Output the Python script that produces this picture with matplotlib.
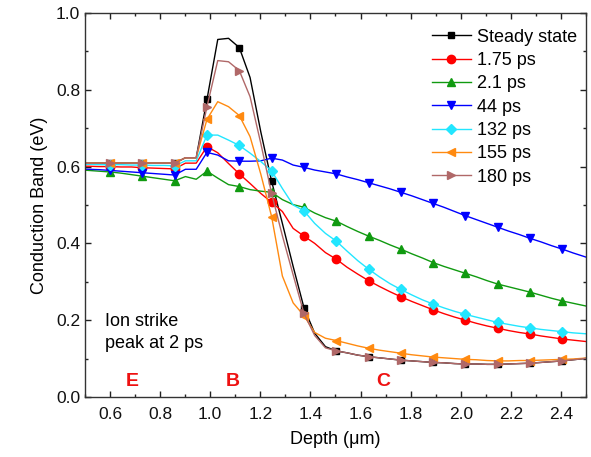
import numpy as np
import matplotlib
matplotlib.use("Agg")
import matplotlib.pyplot as plt
from matplotlib.ticker import MultipleLocator

plt.rcParams['font.family'] = ['Liberation Sans', 'DejaVu Sans']

# Depth grid (um): simulation nodes every 0.043 um, markers on every third node
depth = np.round(0.6 + 0.043 * np.arange(-3, 46), 3)

steady = [0.609, 0.609, 0.609, 0.609, 0.609, 0.609, 0.609, 0.609, 0.609, 0.609,
          0.623, 0.623, 0.775, 0.931, 0.934, 0.910, 0.832, 0.690, 0.562, 0.452,
          0.340, 0.233, 0.166, 0.131, 0.120, 0.115, 0.109, 0.105, 0.102, 0.099,
          0.096, 0.094, 0.092, 0.090, 0.089, 0.087, 0.086, 0.086, 0.085, 0.085,
          0.086, 0.087, 0.088, 0.090, 0.092, 0.094, 0.097, 0.100, 0.103]

t_1p75 = [0.601, 0.601, 0.600, 0.600, 0.599, 0.599, 0.597, 0.596, 0.595, 0.594,
          0.609, 0.609, 0.652, 0.636, 0.608, 0.581, 0.556, 0.530, 0.507, 0.483,
          0.439, 0.419, 0.400, 0.376, 0.359, 0.338, 0.320, 0.303, 0.288, 0.274,
          0.261, 0.249, 0.238, 0.227, 0.217, 0.208, 0.200, 0.192, 0.185, 0.179,
          0.173, 0.168, 0.164, 0.159, 0.155, 0.151, 0.148, 0.145, 0.142]

t_2p1 = [0.592, 0.590, 0.588, 0.586, 0.583, 0.579, 0.575, 0.571, 0.567, 0.563,
         0.574, 0.567, 0.588, 0.570, 0.553, 0.548, 0.540, 0.536, 0.533, 0.514,
         0.501, 0.494, 0.479, 0.467, 0.458, 0.444, 0.431, 0.419, 0.408, 0.396,
         0.385, 0.373, 0.362, 0.350, 0.340, 0.331, 0.322, 0.313, 0.303, 0.294,
         0.287, 0.280, 0.273, 0.265, 0.257, 0.250, 0.244, 0.238, 0.232]

t_44 = [0.594, 0.593, 0.592, 0.590, 0.588, 0.586, 0.584, 0.582, 0.580, 0.578,
        0.593, 0.593, 0.637, 0.630, 0.615, 0.614, 0.614, 0.615, 0.622, 0.617,
        0.604, 0.598, 0.591, 0.586, 0.581, 0.573, 0.566, 0.558, 0.550, 0.542,
        0.533, 0.524, 0.514, 0.504, 0.494, 0.483, 0.472, 0.462, 0.452, 0.442,
        0.432, 0.423, 0.413, 0.404, 0.394, 0.385, 0.375, 0.366, 0.357]

t_132 = [0.606, 0.606, 0.605, 0.605, 0.605, 0.604, 0.604, 0.603, 0.603, 0.602,
         0.615, 0.615, 0.682, 0.682, 0.669, 0.655, 0.635, 0.613, 0.589, 0.543,
         0.500, 0.485, 0.452, 0.426, 0.406, 0.380, 0.355, 0.333, 0.313, 0.295,
         0.280, 0.266, 0.253, 0.242, 0.232, 0.223, 0.215, 0.208, 0.201, 0.194,
         0.189, 0.184, 0.180, 0.176, 0.173, 0.170, 0.167, 0.165, 0.163]

t_155 = [0.609, 0.609, 0.609, 0.609, 0.609, 0.609, 0.609, 0.609, 0.609, 0.609,
         0.623, 0.623, 0.723, 0.769, 0.756, 0.733, 0.678, 0.580, 0.470, 0.315,
         0.245, 0.212, 0.168, 0.153, 0.147, 0.140, 0.133, 0.127, 0.122, 0.118,
         0.114, 0.110, 0.107, 0.104, 0.102, 0.100, 0.098, 0.097, 0.095, 0.094,
         0.094, 0.095, 0.095, 0.096, 0.097, 0.098, 0.099, 0.101, 0.103]

t_180 = [0.609, 0.609, 0.609, 0.609, 0.609, 0.609, 0.609, 0.609, 0.609, 0.609,
         0.623, 0.623, 0.756, 0.876, 0.873, 0.850, 0.782, 0.660, 0.530, 0.420,
         0.318, 0.218, 0.160, 0.128, 0.120, 0.115, 0.109, 0.105, 0.102, 0.099,
         0.096, 0.094, 0.092, 0.090, 0.089, 0.087, 0.086, 0.086, 0.085, 0.085,
         0.086, 0.087, 0.088, 0.090, 0.092, 0.094, 0.097, 0.100, 0.103]

labels = ["Steady state", "1.75 ps", "2.1 ps", "44 ps", "132 ps", "155 ps", "180 ps"]
series = [steady, t_1p75, t_2p1, t_44, t_132, t_155, t_180]
colors = ["#000000", "#ff0000", "#109a10", "#0000ff", "#22e6ff", "#ff8a10", "#b06868"]
markers = ["s", "o", "^", "v", "D", "<", ">"]
msizes = [5.0, 6.0, 6.0, 6.0, 5.0, 6.0, 6.0]

fig = plt.figure(figsize=(5.91, 4.57), dpi=100)
ax = fig.add_axes([0.1438, 0.1313, 0.8477, 0.8403])

for y, lab, c, m, ms in zip(series, labels, colors, markers, msizes):
    ax.plot(depth, y, color=c, lw=1.0, marker=m, ms=ms, mec=c, mfc=c,
            markevery=slice(3, 46, 3), label=lab)

ax.set_xlim(0.5, 2.5)
ax.set_ylim(0.0, 1.0)
ax.xaxis.set_major_locator(MultipleLocator(0.2))
ax.xaxis.set_minor_locator(MultipleLocator(0.1))
ax.yaxis.set_major_locator(MultipleLocator(0.2))
ax.yaxis.set_minor_locator(MultipleLocator(0.1))
ax.set_xticks(np.round(np.arange(0.6, 2.41, 0.2), 1))
ax.tick_params(which="both", direction="in", top=True, right=True,
               labelsize=12.5, width=1.0, colors="#222222", labelcolor="#111111")
ax.tick_params(which="major", length=4.5)
ax.tick_params(which="minor", length=2.5)
ax.tick_params(axis="x", pad=7)
for s in ax.spines.values():
    s.set_linewidth(1.0)
    s.set_color("#333333")

ax.set_xlabel("Depth (\u03bcm)", fontsize=13, labelpad=7)
ax.set_ylabel("Conduction Band (eV)", fontsize=13, labelpad=6)

ax.legend(loc="upper right", frameon=False, fontsize=13, handlelength=2.2,
          handletextpad=0.33, labelspacing=0.35, borderaxespad=0.3,
          bbox_to_anchor=(1.008, 0.992))

ax.text(0.58, 0.218, "Ion strike\npeak at 2 ps", fontsize=13, ha="left",
        va="top", linespacing=1.35)
for lx, txt in [(0.69, "E"), (1.09, "B"), (1.69, "C")]:
    ax.text(lx, 0.04, txt, color="#ee1111", fontsize=14, fontweight="bold",
            ha="center", va="center")

fig.savefig("out.png", dpi=100)
